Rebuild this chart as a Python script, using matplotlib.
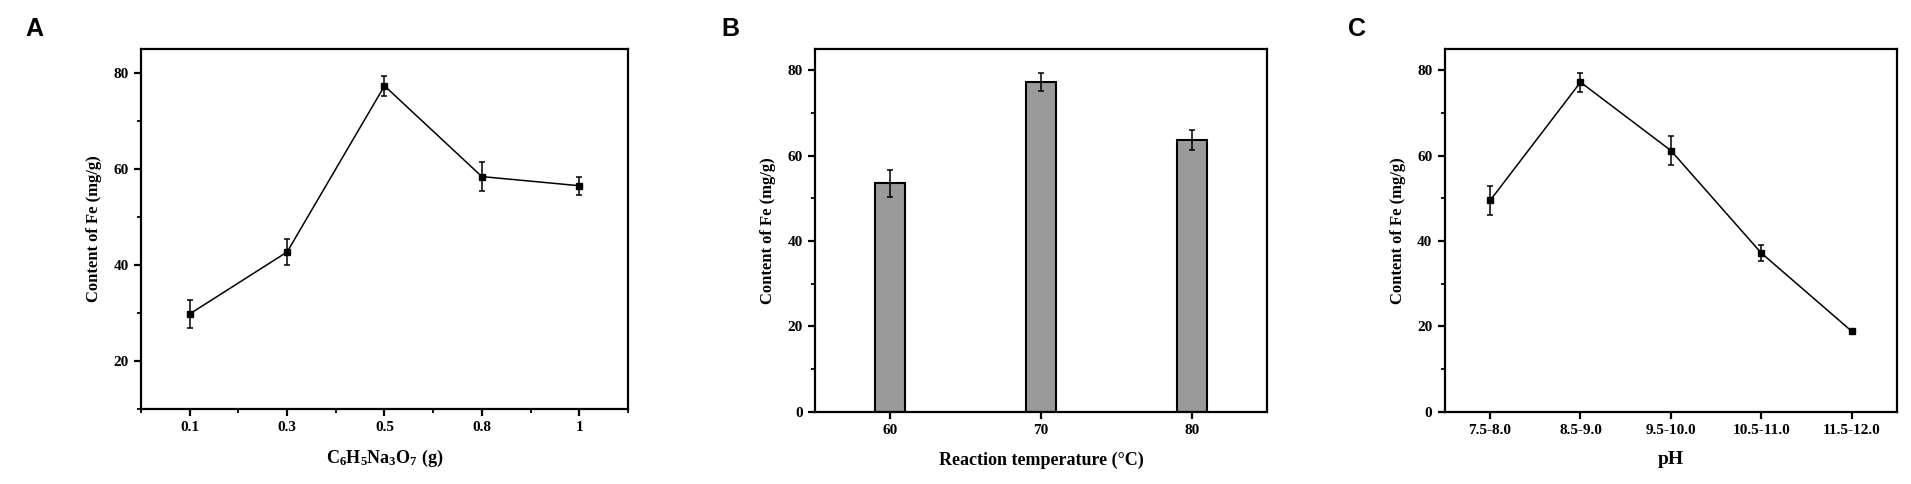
import numpy as np
import matplotlib.pyplot as plt
from matplotlib.ticker import MultipleLocator, FixedLocator

plt.rcParams['font.family'] = ['Liberation Serif', 'DejaVu Serif']
plt.rcParams['font.weight'] = 'bold'
plt.rcParams['axes.labelweight'] = 'bold'
plt.rcParams['mathtext.default'] = 'regular'

# panel A : sodium citrate dosage
citrate_labels = ['0.1', '0.3', '0.5', '0.8', '1']
citrate_fe = [29.8, 42.7, 77.3, 58.4, 56.5]
citrate_err = [3.0, 2.8, 2.1, 3.1, 1.9]

# panel B : reaction temperature
temp_labels = ['60', '70', '80']
temp_fe = [53.5, 77.2, 63.7]
temp_err = [3.2, 2.1, 2.4]

# panel C : pH
ph_labels = ['7.5-8.0', '8.5-9.0', '9.5-10.0', '10.5-11.0', '11.5-12.0']
ph_fe = [49.5, 77.2, 61.2, 37.2, 18.9]
ph_err = [3.4, 2.2, 3.5, 1.8, 0.5]

fig = plt.figure(figsize=(19.11, 4.84), dpi=100)
axA = fig.add_axes([0.0738, 0.155, 0.2548, 0.744])
axB = fig.add_axes([0.4265, 0.149, 0.2365, 0.750])
axC = fig.add_axes([0.7561, 0.149, 0.2365, 0.750])


def style(ax):
    for s in ax.spines.values():
        s.set_linewidth(1.6)
    ax.tick_params(which='major', direction='out', length=5, width=1.6, labelsize=11, pad=4)
    ax.tick_params(which='minor', direction='out', length=3, width=1.3)
    ax.yaxis.set_minor_locator(MultipleLocator(10))


# A
xa = np.arange(1, len(citrate_labels) + 1)
axA.errorbar(xa, citrate_fe, yerr=citrate_err, color='black', lw=1.1, marker='s',
             ms=5, capsize=2.5, elinewidth=1.1, capthick=1.1)
axA.set_xlim(0.5, 5.5)
axA.set_ylim(10, 85)
axA.set_xticks(xa)
axA.set_xticklabels(citrate_labels)
axA.set_yticks([20, 40, 60, 80])
style(axA)
axA.xaxis.set_minor_locator(FixedLocator(np.arange(0.5, 6, 1)))
axA.set_xlabel('C$_6$H$_5$Na$_3$O$_7$ (g)', fontsize=13, labelpad=10)
axA.set_ylabel('Content of Fe (mg/g)', fontsize=12, labelpad=8)

# B
xb = np.arange(1, len(temp_labels) + 1)
axB.bar(xb, temp_fe, width=0.2, color='#9a9a9a', edgecolor='black', linewidth=1.5)
axB.errorbar(xb, temp_fe, yerr=temp_err, fmt='none', ecolor='black', elinewidth=1.1,
             capsize=2.5, capthick=1.1)
axB.set_xlim(0.5, 3.5)
axB.set_ylim(0, 85)
axB.set_xticks(xb)
axB.set_xticklabels(temp_labels)
axB.set_yticks([0, 20, 40, 60, 80])
style(axB)
axB.set_xlabel('Reaction temperature (°C)', fontsize=13, labelpad=10)
axB.set_ylabel('Content of Fe (mg/g)', fontsize=12, labelpad=8)

# C
xc = np.arange(1, len(ph_labels) + 1)
axC.errorbar(xc, ph_fe, yerr=ph_err, color='black', lw=1.1, marker='s',
             ms=5, capsize=2.5, elinewidth=1.1, capthick=1.1)
axC.set_xlim(0.5, 5.5)
axC.set_ylim(0, 85)
axC.set_xticks(xc)
axC.set_xticklabels(ph_labels)
axC.set_yticks([0, 20, 40, 60, 80])
style(axC)
axC.set_xlabel('pH', fontsize=14, labelpad=10)
axC.set_ylabel('Content of Fe (mg/g)', fontsize=12, labelpad=8)

for lab, xpos in [('A', 25), ('B', 721), ('C', 1348)]:
    fig.text(xpos / 1911, 1 - 17 / 484, lab, fontsize=18, fontweight='bold',
             family='Liberation Sans', va='top', ha='left')

plt.savefig('out.png', dpi=100)
